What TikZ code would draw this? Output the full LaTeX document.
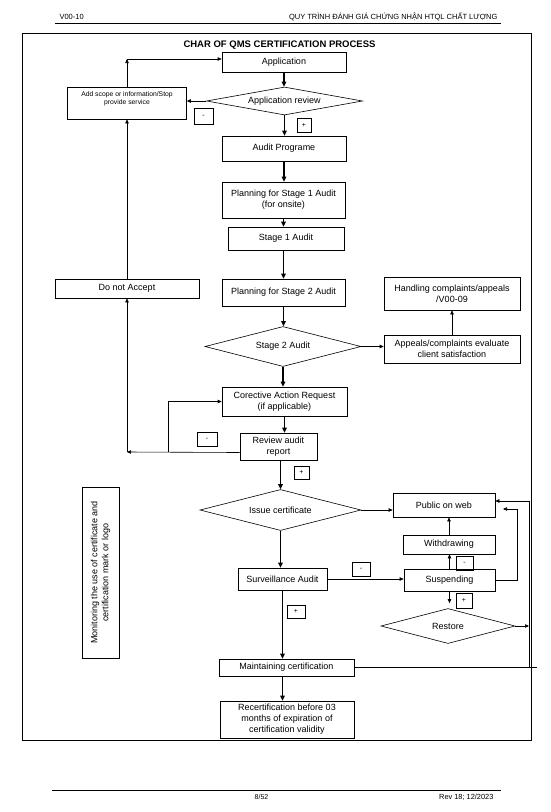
\documentclass[tikz,border=0pt]{standalone}
\usepackage{fontspec}
\setmainfont{Liberation Sans}
\usepackage{tikz}
\usetikzlibrary{arrows.meta, shapes.geometric}

\tikzset{
  box/.style={draw, line width=0.6pt, align=center, inner sep=1pt, font=\fontsize{9}{11}\selectfont},
  decision/.style={draw, diamond, line width=0.6pt, aspect=4, inner sep=0pt, font=\fontsize{9}{11}\selectfont},
  tag/.style={draw, line width=0.6pt, inner sep=0pt, font=\fontsize{7}{8}\selectfont},
  flow/.style={-{Triangle[length=5pt,width=4.5pt]}, line width=1.4pt},
  link/.style={-{Triangle[length=4pt,width=3.4pt]}, line width=0.6pt},
}

\begin{document}
\begin{tikzpicture}[x=1pt, y=-1pt]
    \useasboundingbox (0,0) rectangle (550,812);
    \node[anchor=west, font=\fontsize{7.5}{9}\selectfont] (hdrleft) at (56,17) {V00-10};
    \node[anchor=east, font=\fontsize{7.5}{9}\selectfont] (hdrright) at (501,17) {QUY TRÌNH ĐÁNH GIÁ CHỨNG NHẬN HTQL CHẤT LƯỢNG};
    \draw[line width=0.8pt] (55,23.5) -- (500.5,23.5);
    \draw[line width=0.8pt] (22.5,33.5) rectangle (531.5,740);
    \node[font=\bfseries\fontsize{9.5}{11}\selectfont] (title) at (279.5,45) {CHAR OF QMS CERTIFICATION PROCESS};

    \node[box, minimum width=124, minimum height=20] (app) at (284,62) {Application};
    \node[decision, minimum width=156, minimum height=28] (review) at (284.5,101) {Application review};
    \node[box, minimum width=119, minimum height=32, font=\fontsize{6.8}{8}\selectfont, text depth=9pt] (addscope) at (127,103) {Add scope or information/Stop\\provide service};
    \node[tag, minimum width=19, minimum height=16] (minusapp) at (203.5,116) {-};
    \node[tag, minimum width=14, minimum height=14] (plusapp) at (304,125) {+};
    \node[box, minimum width=124, minimum height=25] (prog) at (284,148.5) {Audit Programe};
    \node[box, minimum width=123, minimum height=36] (plan1) at (283.5,200) {Planning for Stage 1 Audit\\(for onsite)};
    \node[box, minimum width=116, minimum height=23] (stage1) at (286,238.5) {Stage 1 Audit};
    \node[box, minimum width=144, minimum height=19] (donot) at (127,288.5) {Do not Accept};
    \node[box, minimum width=123, minimum height=27] (plan2) at (283.5,292.5) {Planning for Stage 2 Audit};
    \node[box, minimum width=136, minimum height=33] (handling) at (452,293.5) {Handling complaints/appeals\\/V00-09};
    \node[decision, minimum width=156, minimum height=40] (stage2) at (283,346.5) {Stage 2 Audit};
    \node[box, minimum width=136, minimum height=28] (appeals) at (452,349) {Appeals/complaints evaluate\\client satisfaction};
    \node[box, minimum width=125, minimum height=29] (car) at (284.5,401.5) {Corective Action Request\\(if applicable)};
    \node[tag, minimum width=20, minimum height=14] (minusrev) at (207,439) {-};
    \node[box, minimum width=77, minimum height=27] (rev) at (278.5,446.5) {Review audit\\report};
    \node[tag, minimum width=15, minimum height=13] (plusrev) at (301.5,472.5) {+};
    \node[decision, minimum width=161, minimum height=41] (issue) at (280.5,510) {Issue certificate};
    \node[box, minimum width=102, minimum height=24] (pub) at (444,505) {Public on web};
    \node[box, minimum width=92, minimum height=19] (withdraw) at (449,544.5) {Withdrawing};
    \node[tag, minimum width=17, minimum height=14] (minussusp) at (464.5,563) {-};
    \node[box, minimum width=91, minimum height=22] (susp) at (449.5,580) {Suspending};
    \node[tag, minimum width=16, minimum height=15] (plussusp) at (464,600.5) {+};
    \node[decision, minimum width=134, minimum height=35] (restore) at (448,626) {Restore};
    \node[box, minimum width=89, minimum height=22] (surv) at (282.5,579) {Surveillance Audit};
    \node[tag, minimum width=18, minimum height=14] (minussurv) at (361,569) {-};
    \node[tag, minimum width=18, minimum height=13] (plussurv) at (296,611.5) {+};
    \node[box, minimum width=135, minimum height=17] (maint) at (286.5,667.5) {Maintaining certification};
    \node[box, minimum width=134, minimum height=37] (recert) at (287,719.5) {Recertification before 03\\months of expiration of\\certification validity};
    \node[box, rotate=90, minimum width=171, minimum height=37] (monitor) at (100.5,572.5) {Monitoring the use of certificate and\\certification mark or logo};

    \coordinate (topturn) at (127,59);
    \coordinate (leftturn) at (127,452);
    \coordinate (carloop) at (168,452);
    \coordinate (pubside) at (503,509);
    \coordinate (rail) at (529,667.5);
    \coordinate (railend) at (537,667.5);

    \draw[flow] (app.south) -- (app.south |- review.north);
    \draw[flow] (review.south) -- (review.south |- prog.north);
    \draw[flow] (prog.south) -- (prog.south |- plan1.north);
    \draw[flow] (plan1.south) -- (plan1.south |- stage1.north);
    \draw[flow] (plan1.south |- stage1.south) -- (plan2.north);
    \draw[flow] (plan2.south) -- (plan2.south |- stage2.north);
    \draw[flow] (stage2.south) -- (stage2.south |- car.north);
    \draw[flow] (car.south) -- (car.south |- rev.north);
    \draw[flow] (issue.north |- rev.south) -- (issue.north);
    \draw[flow] (issue.south) -- (issue.south |- surv.north);
    \draw[flow] (surv.south) -- (surv.south |- maint.north);
    \draw[flow] (maint.south -| surv.south) -- (recert.north -| surv.south);

    \draw[link] (review.west) -- (review.west -| addscope.east);
    \draw[link] (addscope.north) -- (topturn);
    \draw[link] (topturn) -- (app.west |- topturn);
    \draw[link] (donot.north) -- (addscope.south);
    \draw[link] ([yshift=-6pt]rev.west) -- (leftturn);
    \draw[link] (leftturn) -- (donot.south);
    \draw[link] (carloop) |- (car.west);
    \draw[link] (stage2.east) -- (stage2.east -| appeals.west);
    \draw[link] (appeals.north) -- (handling.south);
    \draw[link] (issue.east) -- (issue.east -| pub.west);
    \draw[link] (withdraw.north) -- (withdraw.north |- pub.south);
    \draw[link] (susp.north) -- (susp.north |- withdraw.south);
    \draw[link] (surv.east) -- (surv.east -| susp.west);
    \draw[link, shorten >=5pt] (susp.south) -- (susp.south |- restore.north);
    \draw[link] (susp.east) -- ++(22,0) |- (pubside);
    \draw[link] (restore.east) -- (restore.east -| rail);
    \draw[line width=0.6pt] (maint.east) -- (railend);
    \draw[link] (rail) |- ([yshift=4pt]pub.east);

    \draw[line width=0.6pt] (52,790.5) -- (500.5,790.5);
    \node[font=\fontsize{7}{8}\selectfont] (page) at (261.5,797) {8/52};
    \node[anchor=east, font=\fontsize{7.4}{9}\selectfont] (rev18) at (497,797) {Rev 18; 12/2023};
\end{tikzpicture}
\end{document}
